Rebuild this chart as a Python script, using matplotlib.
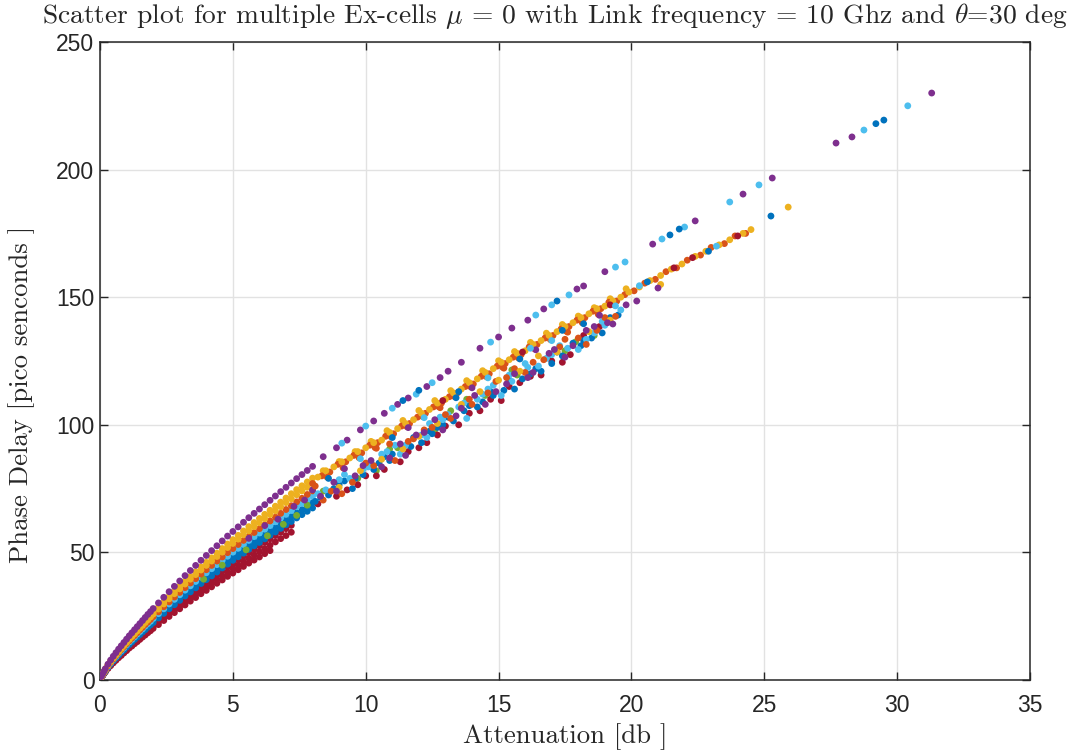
import matplotlib
matplotlib.use('Agg')
import matplotlib.pyplot as plt

plt.rcParams['mathtext.fontset'] = 'cm'

# ---------------- data ----------------
att_grid = [0.05, 0.1, 0.15, 0.2, 0.3, 0.4, 0.5, 0.6, 0.7, 0.8, 0.9, 1.0, 1.1, 1.2, 1.3,
            1.4, 1.5, 1.6, 1.7, 1.8, 1.9, 2.0, 2.2, 2.4, 2.6, 2.8, 3.0, 3.2, 3.4, 3.6,
            3.8, 4.0, 4.2, 4.4, 4.6, 4.8, 5.0, 5.2, 5.4, 5.6, 5.8, 6.0, 6.2, 6.4, 6.6,
            6.8, 7.0, 7.2, 7.4, 7.6, 7.8, 8.0]

purple_dense = [1.3, 2.4, 3.4, 4.4, 6.2, 7.8, 9.3, 10.7, 12.1, 13.4, 14.7, 16.0, 17.3, 18.5,
                19.7, 20.9, 22.1, 23.3, 24.5, 25.7, 26.8, 28.0, 30.2, 32.4, 34.6, 36.7, 38.8,
                40.9, 42.9, 44.9, 46.9, 48.8, 50.7, 52.6, 54.5, 56.4, 58.2, 60.0, 61.8, 63.6,
                65.3, 67.0, 68.7, 70.4, 72.1, 73.8, 75.5, 77.2, 78.9, 80.5, 82.1, 83.7]
yellow_dense_b = [1.2, 2.3, 3.2, 4.2, 5.9, 7.4, 8.8, 10.1, 11.4, 12.7, 13.9, 15.1, 16.3, 17.5,
                  18.6, 19.8, 20.9, 22.0, 23.2, 24.3, 25.3, 26.5, 28.5, 30.6, 32.7, 34.7, 36.7,
                  38.7, 40.5, 42.4, 44.3, 46.1, 47.9, 49.7, 51.5, 53.3, 55.0, 56.7, 58.4, 60.1,
                  61.7, 63.3, 64.9, 66.5, 68.1, 69.7, 71.3, 73.0, 74.6, 76.1, 77.6, 79.1]
yellow_dense = [1.2, 2.2, 3.1, 4.0, 5.7, 7.2, 8.6, 9.8, 11.1, 12.3, 13.5, 14.7, 15.9, 17.0,
                18.1, 19.2, 20.3, 21.4, 22.5, 23.6, 24.7, 25.8, 27.8, 29.8, 31.8, 33.8, 35.7,
                37.6, 39.5, 41.3, 43.1, 44.9, 46.6, 48.4, 50.1, 51.9, 53.5, 55.2, 56.9, 58.5,
                60.1, 61.6, 63.2, 64.8, 66.3, 67.9, 69.5, 71.0, 72.6, 74.1, 75.5, 77.0]
orange_dense = [1.15, 2.1, 3.0, 3.9, 5.5, 6.9, 8.2, 9.5, 10.7, 11.9, 13.0, 14.2, 15.3, 16.4,
                17.4, 18.5, 19.6, 20.6, 21.7, 22.7, 23.7, 24.8, 26.7, 28.7, 30.6, 32.5, 34.3,
                36.2, 38.0, 39.7, 41.5, 43.2, 44.9, 46.6, 48.2, 49.9, 51.5, 53.1, 54.7, 56.3,
                57.8, 59.3, 60.8, 62.3, 63.8, 65.3, 66.8, 68.3, 69.8, 71.2, 72.7, 74.1]
lightblue_dense = [1.1, 2.1, 2.9, 3.8, 5.3, 6.7, 8.0, 9.2, 10.4, 11.5, 12.6, 13.8, 14.9, 15.9,
                   16.9, 18.0, 19.0, 20.0, 21.1, 22.1, 23.0, 24.1, 26.0, 27.9, 29.8, 31.6, 33.4,
                   35.2, 36.9, 38.6, 40.3, 42.0, 43.6, 45.2, 46.9, 48.5, 50.1, 51.6, 53.1, 54.7,
                   56.2, 57.6, 59.1, 60.5, 62.0, 63.5, 64.9, 66.4, 67.9, 69.2, 70.6, 72.0]
blue_dense = [1.1, 2.0, 2.8, 3.7, 5.1, 6.5, 7.7, 8.9, 10.0, 11.1, 12.2, 13.3, 14.4, 15.4,
              16.4, 17.3, 18.3, 19.3, 20.3, 21.3, 22.2, 23.2, 25.1, 26.9, 28.7, 30.5, 32.2,
              33.9, 35.6, 37.3, 38.9, 40.5, 42.1, 43.7, 45.2, 46.8, 48.3, 49.8, 51.3, 52.8,
              54.2, 55.6, 57.0, 58.4, 59.8, 61.3, 62.7, 64.1, 65.5, 66.8, 68.1, 69.5]
blue_dense_b = [1.05, 1.9, 2.7, 3.5, 5.0, 6.3, 7.5, 8.6, 9.7, 10.8, 11.8, 12.9, 13.9, 14.9,
                15.9, 16.8, 17.8, 18.8, 19.7, 20.7, 21.6, 22.5, 24.3, 26.1, 27.9, 29.5, 31.2,
                32.9, 34.5, 36.1, 37.8, 39.3, 40.8, 42.3, 43.9, 45.4, 46.9, 48.3, 49.7, 51.2,
                52.6, 53.9, 55.3, 56.7, 58.0, 59.4, 60.8, 62.1, 63.5, 64.8, 66.1, 67.4]
red_dense_a = [1.0, 1.9, 2.7, 3.5, 4.9, 6.1, 7.3, 8.4, 9.5, 10.5, 11.5, 12.6, 13.6, 14.5,
               15.5, 16.4, 17.3, 18.3, 19.2, 20.2, 21.0, 22.0, 23.7, 25.4, 27.2, 28.8, 30.5,
               32.1, 33.7, 35.2, 36.8, 38.3, 39.8, 41.3, 42.8, 44.3, 45.7, 47.1, 48.5, 49.9,
               51.3, 52.6, 53.9, 55.3, 56.6, 57.9, 59.3, 60.6]
red_dense_b = [1.0, 1.8, 2.6, 3.3, 4.7, 5.9, 7.0, 8.0, 9.1, 10.1, 11.0, 12.0, 13.0, 13.9,
               14.8, 15.7, 16.6, 17.5, 18.4, 19.3, 20.1, 21.0, 22.7, 24.3, 26.0, 27.5, 29.1,
               30.7, 32.2, 33.7, 35.2, 36.6, 38.0, 39.5, 40.9, 42.3, 43.7, 45.0, 46.4, 47.7,
               49.0, 50.3, 51.5, 52.8, 54.1, 55.4, 56.6, 57.9]
red_dense_c = [0.95, 1.7, 2.45, 3.2, 4.5, 5.6, 6.7, 7.7, 8.7, 9.6, 10.6, 11.5, 12.5, 13.3,
               14.2, 15.0, 15.9, 16.8, 17.6, 18.5, 19.3, 20.2, 21.7, 23.3, 24.9, 26.4, 27.9,
               29.4, 30.9, 32.3, 33.8, 35.1, 36.5, 37.9, 39.2, 40.6, 41.9, 43.2, 44.5, 45.8,
               47.0, 48.2, 49.5, 50.7]

# upper sparse line
purple_up_x = [8.4, 8.9, 9.3, 9.8, 10.3, 10.7, 11.2, 11.6, 12.3, 12.8, 13.1, 13.6, 14.3, 15.0,
               15.5, 16.1, 16.7, 17.95, 18.2, 19.0, 20.8, 22.4, 24.2, 25.3, 27.7, 28.3, 31.3]
purple_up_y = [87.5, 91.0, 94.0, 98.0, 101.5, 104.5, 108.0, 110.5, 115.0, 118.5, 121.0, 124.5,
               130.0, 134.4, 137.9, 141.0, 145.4, 153.2, 154.4, 160.0, 170.8, 179.9, 190.4,
               196.7, 210.4, 212.8, 230.0]
lightblue_up_x = [9.1, 10.0, 11.0, 11.9, 12.5, 14.7, 16.4, 17.0, 17.65, 19.4, 19.76, 21.15,
                  22.0, 23.7, 24.8, 28.75, 30.4]
lightblue_up_y = [92.8, 99.5, 106.5, 112.0, 116.5, 132.4, 143.0, 147.0, 150.9, 161.8, 163.8,
                  172.8, 177.5, 187.3, 194.0, 215.5, 225.0]
blue_up_x = [11.4, 12.0, 17.2, 21.45, 21.8, 29.2, 29.5]
blue_up_y = [109.5, 113.5, 148.5, 174.4, 176.7, 218.0, 219.4]

# main (upper) dense band beyond x = 8
yellow_band_x = [8.2, 8.5, 8.8, 9.1, 9.4, 9.7, 10.0, 10.3, 10.6, 10.9, 11.2, 11.5, 11.8, 12.1,
                 12.4, 12.7, 13.0, 13.3, 13.6, 13.9, 14.2, 14.5, 14.8, 15.1, 15.4, 15.7, 16.0,
                 16.3, 16.6, 16.9, 17.2, 17.5, 17.8, 18.1, 18.4, 18.7, 19.0, 19.3, 19.6, 19.9,
                 20.3, 20.7, 21.1, 21.5, 21.9, 22.4, 22.8, 23.3, 23.7, 24.2, 24.5]
yellow_band_y = [79.5, 82.0, 83.5, 85.5, 87.0, 89.5, 91.0, 93.0, 94.0, 97.0, 98.5, 100.5, 102.0,
                 104.5, 106.0, 108.5, 110.0, 112.5, 114.0, 116.5, 118.0, 120.5, 122.0, 124.5,
                 125.5, 128.0, 129.0, 131.5, 133.0, 135.0, 136.5, 138.5, 140.0, 142.0, 143.5,
                 145.5, 146.5, 148.5, 150.0, 152.0, 154.0, 156.5, 158.5, 161.0, 163.0, 166.0,
                 168.0, 170.5, 172.5, 175.0, 176.5]
yellow_top_x = [8.4, 9.0, 9.6, 10.2, 10.8, 11.4, 12.0, 12.6, 13.2, 13.8, 14.4, 15.0, 15.6, 16.2,
                16.8, 17.4, 18.0, 18.6, 19.2, 19.8]
yellow_top_y = [82.0, 85.6, 89.5, 93.5, 97.7, 101.7, 105.6, 109.5, 113.4, 117.3, 121.2, 125.1,
                128.7, 132.3, 135.9, 139.3, 142.6, 145.9, 149.4, 153.3]
orange_band_x = [8.0, 8.35, 8.65, 8.95, 9.25, 9.55, 9.85, 10.15, 10.45, 10.75, 11.05, 11.35,
                 11.65, 11.95, 12.25, 12.55, 12.85, 13.15, 13.45, 13.75, 14.05, 14.35, 14.65,
                 14.95, 15.25, 15.55, 15.85, 16.15, 16.45, 16.75, 17.05, 17.35, 17.65, 17.95,
                 18.25, 18.55, 18.85, 19.15, 19.45, 19.75, 20.1, 20.5, 20.9, 21.3, 21.7, 22.1,
                 22.6, 23.0, 23.5, 23.9, 24.3]
orange_band_y = [77.0, 80.0, 81.5, 84.5, 85.5, 88.0, 89.0, 92.0, 93.0, 95.5, 96.5, 99.5, 100.5,
                 103.0, 104.5, 107.0, 108.5, 111.0, 112.5, 115.0, 116.0, 119.0, 120.0, 123.0,
                 124.0, 126.5, 127.5, 130.5, 131.5, 134.0, 135.0, 137.5, 138.5, 141.0, 142.0,
                 144.5, 145.5, 148.0, 148.5, 151.0, 152.5, 155.5, 157.0, 160.0, 161.5, 164.5,
                 166.5, 169.5, 171.0, 174.0, 175.0]
orange_band_b_x = [8.1, 8.55, 9.15, 9.75, 10.35, 10.4, 10.95, 11.55, 12.15, 12.75, 12.8, 13.35,
                   13.95, 14.55, 15.15, 15.2, 15.75, 16.35, 16.95, 17.55, 17.6, 18.15, 18.75,
                   19.35]
orange_band_b_y = [76.0, 79.5, 83.1, 87.1, 91.1, 90.8, 95.4, 99.3, 103.2, 107.1, 106.7, 111.0,
                   114.9, 118.8, 122.6, 122.2, 126.2, 129.8, 133.4, 136.7, 136.3, 140.0, 143.3,
                   147.0]
red_band_x = [12.9, 15.9, 19.2, 21.6, 22.3, 24.0]
red_band_y = [109.5, 128.5, 147.0, 161.5, 165.5, 174.0]
blue_band_x = [8.6, 11.0, 13.4, 13.5, 15.8, 17.4, 18.2, 20.6, 22.9]
blue_band_y = [79.0, 95.0, 110.6, 113.0, 125.8, 137.0, 139.6, 156.0, 168.0]
purple_band_x = [9.2, 11.6, 14.0, 16.4, 18.8]
purple_band_y = [82.8, 98.9, 114.5, 129.4, 142.9]
lightblue_band_x = [9.8, 12.2, 14.6, 16.2, 17.0, 19.4, 20.3, 23.2]
lightblue_band_y = [86.7, 102.8, 118.4, 130.0, 133.0, 146.6, 154.5, 170.0]

# lower scattered band
purple_low_x = [5.6, 6.2, 6.7, 7.3, 7.7, 8.0, 8.3, 8.8, 9.6, 10.2, 10.9, 11.3, 12.2, 12.6, 13.4,
                14.1, 14.9, 15.6, 16.3, 17.1, 17.8, 18.6, 19.3, 19.8, 20.2, 21.0,
                8.9, 9.9, 10.6, 11.5, 11.9, 12.9, 13.6, 14.5, 15.3, 16.1, 16.9, 17.5, 18.3, 19.1]
purple_low_y = [55.5, 60.5, 63.0, 68.0, 70.5, 74.5, 72.0, 77.5, 80.0, 86.0, 87.0, 92.5, 97.0,
                102.0, 103.5, 111.5, 113.0, 120.0, 120.5, 129.5, 131.0, 138.5, 139.5, 147.0,
                148.5, 153.6,
                74.0, 84.0, 83.5, 88.0, 96.0, 98.0, 106.5, 108.0, 116.0, 118.5, 128.0, 126.5,
                137.0, 140.0]
blue_low_x = [8.1, 8.6, 9.2, 9.9, 10.5, 11.0, 11.7, 12.4, 12.9, 13.7, 14.4, 15.2, 15.9, 16.6,
              17.4, 18.1, 18.9, 19.5, 25.25,
              8.3, 9.0, 9.5, 10.3, 10.9, 11.4, 12.1, 12.7, 13.3, 14.2, 14.8, 15.6, 16.4, 17.0,
              17.8, 18.5,
              8.8, 9.6, 10.7, 11.8, 12.5, 13.1, 13.9, 14.7, 15.4, 16.2, 17.2, 18.2, 19.2]
blue_low_y = [70.0, 72.5, 78.0, 80.5, 85.0, 88.5, 91.5, 97.5, 100.0, 105.5, 109.0, 113.5, 118.0,
              121.0, 127.0, 131.0, 136.0, 143.0, 181.8,
              71.5, 76.5, 75.0, 82.5, 86.0, 91.0, 93.0, 99.0, 101.5, 107.0, 111.5, 114.0, 122.0,
              124.0, 132.0, 134.0,
              75.0, 79.0, 87.5, 95.0, 96.5, 103.0, 107.5, 113.0, 117.5, 120.0, 128.5, 133.0,
              142.0]
lightblue_low_x = [8.5, 9.4, 10.1, 10.8, 11.5, 12.1, 12.8, 13.5, 14.2, 14.8, 15.5, 16.1, 16.8,
                   17.6, 18.3, 19.0,
                   8.2, 9.2, 9.9, 10.6, 11.3, 12.4, 13.1, 13.8, 14.6, 15.1, 16.5, 17.3, 18.0,
                   18.9,
                   9.0, 10.2, 11.1, 12.3, 12.9, 13.7, 14.4, 15.4, 16.0, 17.0, 18.6, 19.6]
lightblue_low_y = [74.5, 79.0, 83.5, 89.5, 92.0, 96.0, 103.0, 107.0, 110.0, 115.5, 117.0, 122.5,
                   126.0, 130.0, 133.5, 139.0,
                   73.0, 80.5, 82.5, 88.5, 88.5, 100.5, 104.0, 102.5, 114.0, 111.5, 123.0, 131.0,
                   129.5, 140.5,
                   78.5, 85.0, 92.0, 95.0, 102.0, 108.5, 112.0, 119.5, 124.0, 127.5, 136.0, 145.0]
orange_low_x = [8.7, 9.5, 10.3, 11.1, 11.8, 12.5, 13.2, 14.0, 14.6, 15.3, 16.0, 16.7, 17.3,
                18.0, 18.7, 19.4,
                8.4, 9.1, 10.0, 10.9, 11.6, 12.2, 13.0, 13.9, 14.9, 15.6, 16.3, 17.5, 18.3, 19.0]
orange_low_y = [74.0, 77.5, 84.0, 86.0, 94.5, 99.0, 102.5, 108.0, 112.5, 118.5, 120.5, 125.5,
                130.5, 134.0, 137.0, 142.5,
                70.5, 73.0, 85.0, 92.5, 93.5, 98.0, 104.0, 110.0, 117.0, 122.0, 124.5, 133.5,
                131.5, 142.0]
yellow_low_x = [9.0, 9.8, 10.6, 11.4, 12.0, 12.7, 13.6, 14.3, 15.0, 15.8, 16.5, 17.2, 18.4,
                19.2, 21.1, 25.9]
yellow_low_y = [75.5, 82.0, 86.5, 90.5, 95.5, 100.5, 108.0, 113.0, 117.5, 121.0, 127.0, 128.5,
                136.5, 141.0, 155.0, 185.3]
red_low_x = [9.3, 10.0, 10.7, 11.6, 12.3, 13.0, 13.9, 14.7, 15.4, 16.2, 17.0, 17.7, 18.2, 18.8,
             8.2, 8.9, 9.7, 10.4, 11.3, 12.0, 12.7, 13.5, 14.3, 15.1, 15.8, 16.6, 17.4]
red_low_y = [74.5, 80.0, 82.5, 89.5, 93.0, 99.5, 104.5, 110.0, 115.0, 119.0, 125.0, 127.5,
             135.0, 138.5,
             69.0, 72.0, 76.5, 80.0, 85.5, 91.0, 96.0, 100.0, 105.5, 109.5, 116.5, 119.5, 124.5]
green_low_x = [3.9, 4.6, 5.5, 6.3, 6.9, 7.4, 7.8, 9.7, 10.4, 11.2, 12.6, 13.8, 14.5, 15.7,
               16.9, 17.9, 18.6, 8.4, 10.9, 13.2, 15.5, 17.5]
green_low_y = [39.5, 45.0, 51.0, 56.5, 61.0, 64.5, 68.5, 79.0, 82.0, 91.0, 98.0, 110.0, 111.5,
               119.5, 127.0, 132.5, 135.0, 74.0, 90.5, 105.5, 121.5, 129.0]

x_ticks = [0, 5, 10, 15, 20, 25, 30, 35]
y_ticks = [0, 50, 100, 150, 200, 250]

c_blue = '#0072BD'
c_orange = '#D95319'
c_yellow = '#EDB120'
c_purple = '#7E2F8E'
c_green = '#77AC30'
c_lblue = '#4DBEEE'
c_red = '#A2142F'

# ---------------- figure ----------------
fig = plt.figure(figsize=(10.9, 7.56), dpi=100)
ax = fig.add_axes([100 / 1090, 76 / 756, 930 / 1090, 638 / 756])

MS = 24


def sc(xs, ys, c):
    n = min(len(xs), len(ys))
    ax.scatter(xs[:n], ys[:n], s=MS, c=c, edgecolors='none', zorder=3)


sc(att_grid, red_dense_c, c_red)
sc(att_grid, red_dense_b, c_red)
sc(att_grid, red_dense_a, c_red)
sc(att_grid, blue_dense_b, c_blue)
sc(att_grid, blue_dense, c_blue)
sc(att_grid, lightblue_dense, c_lblue)
sc(green_low_x, green_low_y, c_green)
sc(att_grid, orange_dense, c_orange)
sc(att_grid, yellow_dense, c_yellow)
sc(att_grid, yellow_dense_b, c_yellow)
sc(att_grid, purple_dense, c_purple)

sc(red_low_x, red_low_y, c_red)
sc(blue_low_x, blue_low_y, c_blue)
sc(lightblue_low_x, lightblue_low_y, c_lblue)
sc(orange_low_x, orange_low_y, c_orange)
sc(yellow_low_x, yellow_low_y, c_yellow)
sc(purple_low_x, purple_low_y, c_purple)

sc(yellow_top_x, yellow_top_y, c_yellow)
sc(orange_band_b_x, orange_band_b_y, c_orange)
sc(orange_band_x, orange_band_y, c_orange)
sc(yellow_band_x, yellow_band_y, c_yellow)
sc(red_band_x, red_band_y, c_red)
sc(blue_band_x, blue_band_y, c_blue)
sc(purple_band_x, purple_band_y, c_purple)
sc(lightblue_band_x, lightblue_band_y, c_lblue)

sc(purple_up_x, purple_up_y, c_purple)
sc(lightblue_up_x, lightblue_up_y, c_lblue)
sc(blue_up_x, blue_up_y, c_blue)

ax.set_xlim(0, 35)
ax.set_ylim(0, 250)
ax.set_xticks(x_ticks)
ax.set_yticks(y_ticks)
tick_font = ['Liberation Sans Narrow', 'Liberation Sans', 'DejaVu Sans']
ax.set_xticklabels([str(v) for v in x_ticks], family=tick_font, fontsize=16.5, color='#262626')
ax.set_yticklabels([str(v) for v in y_ticks], family=tick_font, fontsize=16.5, color='#262626')
ax.tick_params(direction='in', length=6, width=1.0, top=True, right=True, colors='#262626',
               labelcolor='#262626')
ax.tick_params(axis='x', pad=10)
ax.tick_params(axis='y', pad=4)
ax.grid(True, color='#e2e2e2', linewidth=1.0, zorder=0)
ax.set_axisbelow(True)
for sp in ax.spines.values():
    sp.set_color('#262626')
    sp.set_linewidth(1.1)

fig.text(555 / 1090, 1 - 16 / 756,
         r'Scatter plot for multiple Ex-cells $\mu$ = 0 with Link frequency = 10 Ghz and $\theta$=30 deg',
         family='cmr10', fontsize=19.8, ha='center', va='center', color='#262626')
fig.text(565 / 1090, 1 - 737 / 756, 'Attenuation [db ]', family='cmr10', fontsize=19.3,
         ha='center', va='center', color='#262626')
fig.text(22 / 1090, 1 - 394 / 756, 'Phase Delay [pico senconds ]', family='cmr10', fontsize=19.3,
         ha='center', va='center', rotation=90, color='#262626')

fig.savefig('out.png', dpi=100)
